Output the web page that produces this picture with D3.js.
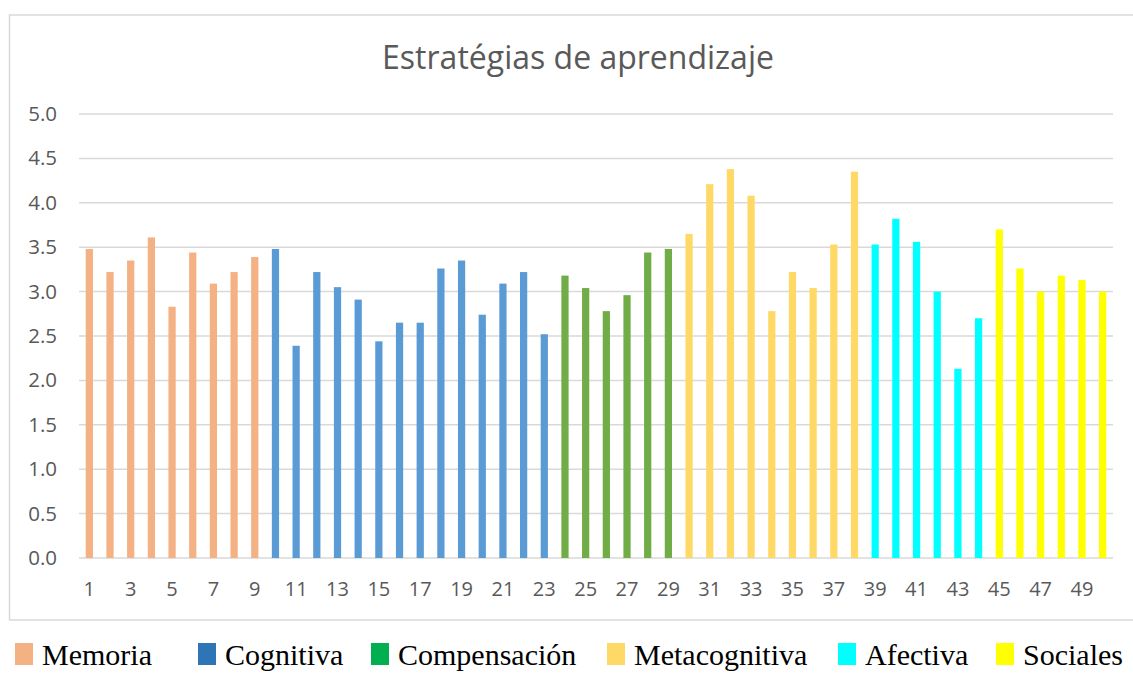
<!DOCTYPE html>
<html>
<head>
<meta charset="utf-8">
<script src="https://cdn.jsdelivr.net/npm/d3@7"></script>
<style>
  body { margin: 0; background: #fff; }
  svg { display: block; }
</style>
</head>
<body>
<div id="chart"></div>
<script>
// item numbers 1..50
var items = d3.range(1, 51);

// mean score per item
var values = [
  3.48, 3.22, 3.35, 3.61, 2.83, 3.44, 3.09, 3.22, 3.39,
  3.48, 2.39, 3.22, 3.05, 2.91, 2.44, 2.65, 2.65, 3.26, 3.35, 2.74, 3.09, 3.22, 2.52,
  3.18, 3.04, 2.78, 2.96, 3.44, 3.48,
  3.65, 4.21, 4.38, 4.08, 2.78, 3.22, 3.04, 3.53, 4.35,
  3.53, 3.82, 3.56, 3.00, 2.13, 2.70,
  3.70, 3.26, 3.00, 3.18, 3.13, 3.00
];

// strategy groups and how many items each one has
var groups = ["Memoria", "Cognitiva", "Compensación", "Metacognitiva", "Afectiva", "Sociales"];
var groupSizes = [9, 14, 6, 9, 6, 6];
var barColors = ["#F4B183", "#5B9BD5", "#70AD47", "#FFD966", "#00FFFF", "#FFFF00"];
var legendColors = ["#F4B183", "#2E75B6", "#00B050", "#FFD966", "#00FFFF", "#FFFF00"];

var yTicks = [0, 0.5, 1, 1.5, 2, 2.5, 3, 3.5, 4, 4.5, 5];
var xTicks = items.filter(function(d) { return d % 2 == 1; });

// legend layout (swatch left edges)
var legendX = [15, 198, 371, 607, 838, 996];

// which group each item belongs to
var itemGroup = [];
groupSizes.forEach(function(n, gi) {
  for (var k = 0; k < n; k++) itemGroup.push(gi);
});

var svg = d3.select("#chart").append("svg")
  .attr("width", 1133)
  .attr("height", 673);

// outer chart frame (right side runs off the picture)
svg.append("rect")
  .attr("x", 9.5).attr("y", 15)
  .attr("width", 1140).attr("height", 605)
  .attr("fill", "none")
  .attr("stroke", "#d9d9d9")
  .attr("stroke-width", 1.5);

svg.append("text")
  .attr("x", 578)
  .attr("y", 69)
  .attr("text-anchor", "middle")
  .style("font-family", "'Open Sans', sans-serif")
  .style("font-size", "32px")
  .style("fill", "#595959")
  .text("Estratégias de aprendizaje");

var x = d3.scaleBand()
  .domain(items)
  .range([79, 1113])
  .paddingInner(0.65)
  .paddingOuter(0.325);

var y = d3.scaleLinear()
  .domain([0, 5])
  .range([558, 114]);

// gridlines
svg.append("g").selectAll("line")
  .data(yTicks)
  .enter().append("line")
  .attr("x1", 79).attr("x2", 1113)
  .attr("y1", function(d) { return y(d); })
  .attr("y2", function(d) { return y(d); })
  .attr("stroke", "#d9d9d9")
  .attr("stroke-width", 1.5);

// y axis labels
var yAxis = d3.axisLeft(y).tickValues(yTicks).tickFormat(d3.format(".1f")).tickSize(0).tickPadding(0);
var gy = svg.append("g").attr("transform", "translate(57,0)").call(yAxis);
gy.select(".domain").remove();
gy.selectAll("text")
  .style("font-family", "'Open Sans', sans-serif")
  .style("font-size", "20.5px")
  .style("fill", "#595959");

// x axis labels, every other item
var xAxis = d3.axisBottom(x).tickValues(xTicks).tickSize(0).tickPadding(0);
var gx = svg.append("g").attr("transform", "translate(0,582)").call(xAxis);
gx.select(".domain").remove();
gx.selectAll("text")
  .attr("dy", "0.71em")
  .style("font-family", "'Open Sans', sans-serif")
  .style("font-size", "20px")
  .style("fill", "#595959");

// bars
svg.append("g").selectAll("rect")
  .data(items)
  .enter().append("rect")
  .attr("x", function(d) { return x(d); })
  .attr("width", x.bandwidth())
  .attr("y", function(d, i) { return y(values[i]); })
  .attr("height", function(d, i) { return y(0) - y(values[i]); })
  .attr("fill", function(d, i) { return barColors[itemGroup[i]]; });

// legend below the frame
var legend = svg.append("g").selectAll("g")
  .data(groups)
  .enter().append("g")
  .attr("transform", function(d, i) { return "translate(" + legendX[i] + ",0)"; });

legend.append("rect")
  .attr("x", 0).attr("y", 643)
  .attr("width", 18).attr("height", 22)
  .attr("fill", function(d, i) { return legendColors[i]; });

legend.append("text")
  .attr("x", 27)
  .attr("y", 665)
  .style("font-family", "'Liberation Serif', 'Times New Roman', serif")
  .style("font-size", "30px")
  .style("fill", "#000")
  .text(function(d) { return d; });
</script>
</body>
</html>
